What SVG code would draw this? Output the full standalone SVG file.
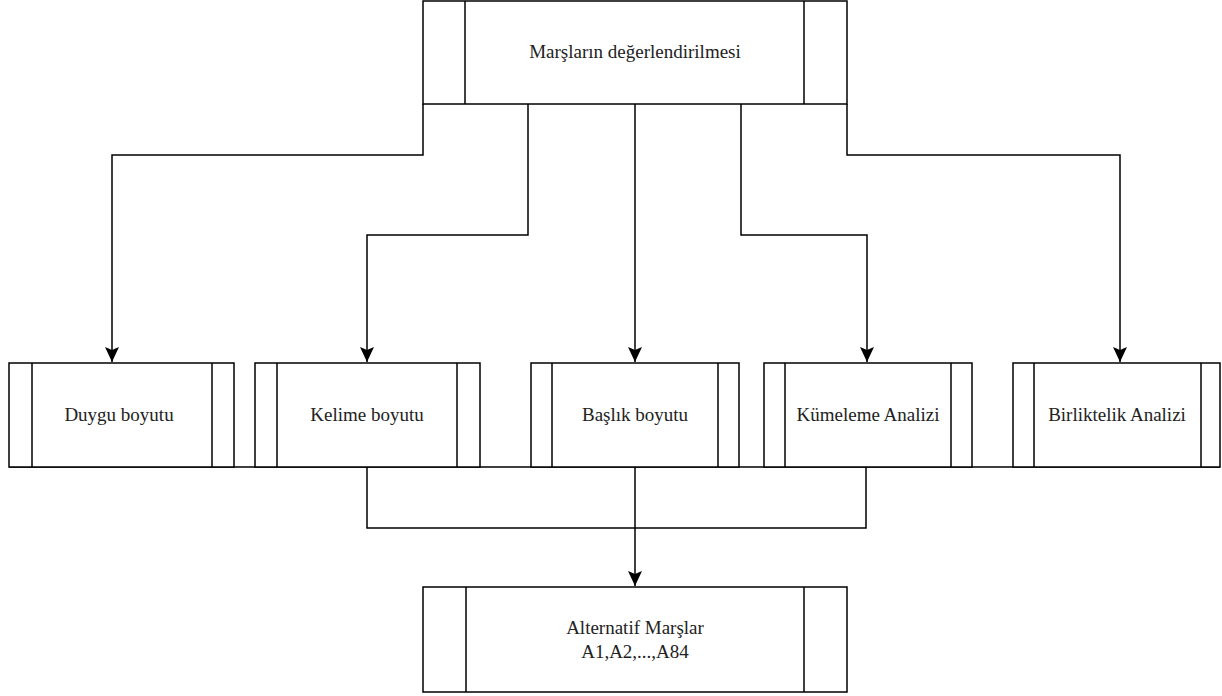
<svg xmlns="http://www.w3.org/2000/svg" width="1222" height="696" viewBox="0 0 1222 696">
<style>
.box{fill:#fff;stroke:#000;stroke-width:1.5}
.in{stroke:#000;stroke-width:1.5}
.t{font-family:"Liberation Serif","Times New Roman",serif;font-size:19px;fill:#222;text-anchor:middle}
.c{fill:none;stroke:#000;stroke-width:1.5}
</style>
<defs>
<marker id="ah" markerUnits="userSpaceOnUse" markerWidth="18" markerHeight="16" refX="15" refY="7" orient="auto">
<path d="M0,0 L15,7 L0,14 L3,7 Z" fill="#000"/>
</marker>
</defs>
<rect width="1222" height="696" fill="#fff"/>
<g id="connectors">
<path class="c" d="M423,104 V155 H112 V362" marker-end="url(#ah)"/>
<path class="c" d="M528,104 V235 H367 V362" marker-end="url(#ah)"/>
<path class="c" d="M635,104 V362" marker-end="url(#ah)"/>
<path class="c" d="M741,104 V235 H867 V362" marker-end="url(#ah)"/>
<path class="c" d="M847,104 V155 H1120 V362" marker-end="url(#ah)"/>
<path class="c" d="M9,467 H1220"/>
<path class="c" d="M367,467 V528 H866 V467"/>
<path class="c" d="M635,467 V586" marker-end="url(#ah)"/>
</g>
<g id="top">
<rect class="box" x="423" y="1" width="424" height="103"/>
<line class="in" x1="465" y1="1" x2="465" y2="104"/>
<line class="in" x1="804" y1="1" x2="804" y2="104"/>
<text class="t" x="635" y="58">Marşların değerlendirilmesi</text>
</g>
<g id="duygu">
<rect class="box" x="9" y="363" width="225" height="104"/>
<line class="in" x1="32" y1="363" x2="32" y2="467"/>
<line class="in" x1="212" y1="363" x2="212" y2="467"/>
<text class="t" x="119" y="421">Duygu boyutu</text>
</g>
<g id="kelime">
<rect class="box" x="255" y="363" width="225" height="104"/>
<line class="in" x1="277" y1="363" x2="277" y2="467"/>
<line class="in" x1="457" y1="363" x2="457" y2="467"/>
<text class="t" x="367" y="421">Kelime boyutu</text>
</g>
<g id="baslik">
<rect class="box" x="531" y="363" width="208" height="104"/>
<line class="in" x1="552" y1="363" x2="552" y2="467"/>
<line class="in" x1="718" y1="363" x2="718" y2="467"/>
<text class="t" x="635" y="421">Başlık boyutu</text>
</g>
<g id="kumeleme">
<rect class="box" x="764" y="363" width="208" height="104"/>
<line class="in" x1="785" y1="363" x2="785" y2="467"/>
<line class="in" x1="951" y1="363" x2="951" y2="467"/>
<text class="t" x="868" y="421">Kümeleme Analizi</text>
</g>
<g id="birliktelik">
<rect class="box" x="1013" y="363" width="207" height="104"/>
<line class="in" x1="1034" y1="363" x2="1034" y2="467"/>
<line class="in" x1="1201" y1="363" x2="1201" y2="467"/>
<text class="t" x="1117" y="421">Birliktelik Analizi</text>
</g>
<g id="alternatif">
<rect class="box" x="423" y="587" width="424" height="105"/>
<line class="in" x1="466" y1="587" x2="466" y2="692"/>
<line class="in" x1="804" y1="587" x2="804" y2="692"/>
<text class="t" x="635" y="634">Alternatif Marşlar</text>
<text class="t" x="635" y="658">A1,A2,...,A84</text>
</g>
</svg>
